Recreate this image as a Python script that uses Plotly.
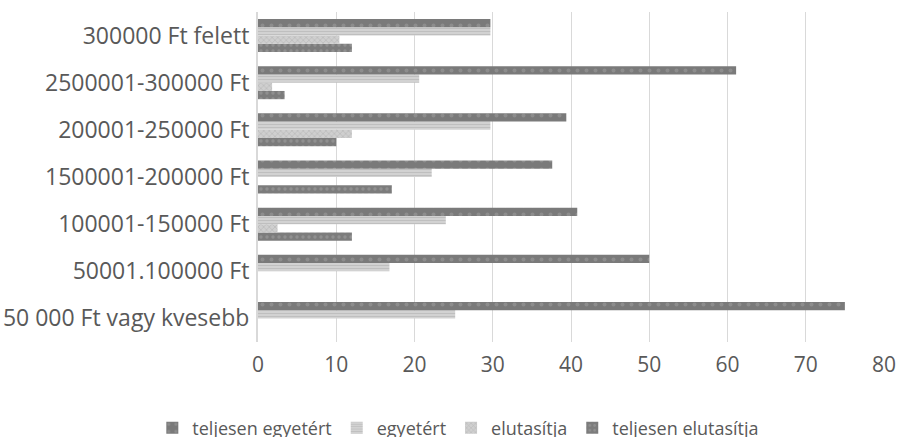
import plotly.graph_objects as go

# Income brackets (bottom to top on the y axis)
categories = [
    "50 000 Ft vagy kvesebb",
    "50001.100000 Ft",
    "100001-150000 Ft",
    "1500001-200000 Ft",
    "200001-250000 Ft",
    "2500001-300000 Ft",
    "300000 Ft felett",
]

teljesen_egyetert = [75.0, 50.0, 40.8, 37.6, 39.4, 61.1, 29.7]
egyetert = [25.2, 16.8, 24.0, 22.2, 29.7, 20.6, 29.7]
elutasitja = [0, 0, 2.5, 0, 12.0, 1.8, 10.4]
teljesen_elutasitja = [0, 0, 12.0, 17.1, 10.0, 3.4, 12.0]

x_ticks = [0, 10, 20, 30, 40, 50, 60, 70, 80]

FONT = "Open Sans"
TEXT = "#595959"

series = [
    ("teljesen elutasítja", teljesen_elutasitja,
     dict(shape=".", bgcolor="#7c7c7c", fgcolor="#a4a4a4", size=6, solidity=0.25)),
    ("elutasítja", elutasitja,
     dict(shape="x", bgcolor="#cfcfcf", fgcolor="#a0a0a0", size=4, solidity=0.3)),
    ("egyetért", egyetert,
     dict(shape="-", bgcolor="#d8d8d8", fgcolor="#a6a6a6", size=3, solidity=0.5)),
    ("teljesen egyetért", teljesen_egyetert,
     dict(shape=".", bgcolor="#7a7a7a", fgcolor="#a0a0a0", size=9, solidity=0.15)),
]

fig = go.Figure()
for name, vals, pat in series:
    fig.add_trace(go.Bar(
        name=name,
        y=categories,
        x=vals,
        orientation="h",
        marker=dict(color=pat["bgcolor"], line=dict(width=0), pattern=pat),
    ))

fig.update_layout(
    width=903,
    height=437,
    barmode="group",
    bargap=0.3,
    bargroupgap=0,
    plot_bgcolor="white",
    paper_bgcolor="white",
    margin=dict(l=258, r=19, t=12, b=95, autoexpand=False),
    font=dict(family=FONT, size=21, color=TEXT),
    legend=dict(
        orientation="h",
        traceorder="reversed",
        x=0.32,
        xanchor="center",
        y=-0.205,
        yanchor="top",
        font=dict(family=FONT, size=18, color=TEXT),
        itemwidth=30,
    ),
)

fig.update_xaxes(
    range=[0, 80],
    tickvals=x_ticks,
    showgrid=True,
    gridcolor="#d9d9d9",
    gridwidth=1,
    zeroline=False,
    showline=False,
    ticks="",
    ticklabelstandoff=8,
    automargin=False,
    tickfont=dict(family=FONT, size=21, color=TEXT),
)

fig.update_yaxes(
    categoryorder="array",
    categoryarray=categories,
    showline=True,
    linecolor="#d9d9d9",
    linewidth=2,
    ticks="",
    ticklabelstandoff=2,
    automargin=False,
    tickfont=dict(family=FONT, size=23, color=TEXT),
)

fig.write_html("out.html")
